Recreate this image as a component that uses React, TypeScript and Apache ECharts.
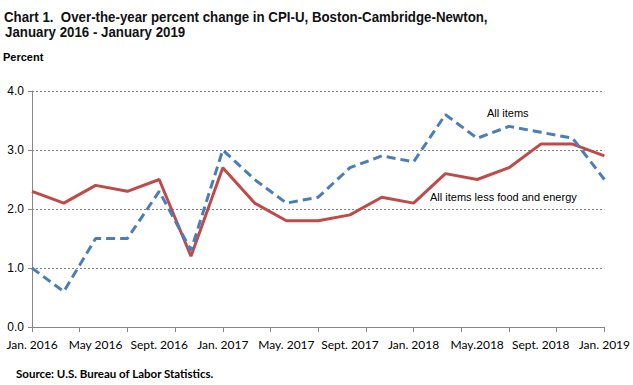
import React, { useEffect, useRef } from "react";
import * as echarts from "echarts";

const months = [0, 2, 4, 6, 8, 10, 12, 14, 16, 18, 20, 22, 24, 26, 28, 30, 32, 34, 36];
const allItems = [1.0, 0.6, 1.5, 1.5, 2.3, 1.3, 3.0, 2.5, 2.1, 2.2, 2.7, 2.9, 2.8, 3.6, 3.2, 3.4, 3.3, 3.2, 2.5];
const coreItems = [2.3, 2.1, 2.4, 2.3, 2.5, 1.2, 2.7, 2.1, 1.8, 1.8, 1.9, 2.2, 2.1, 2.6, 2.5, 2.7, 3.1, 3.1, 2.9];
const xLabels = ["Jan. 2016", "May 2016", "Sept. 2016", "Jan. 2017", "May. 2017", "Sept. 2017", "Jan. 2018", "May.2018", "Sept. 2018", "Jan. 2019"];
const yTicks = [0, 1, 2, 3, 4];

export default function App() {
  const ref = useRef<HTMLDivElement>(null);
  useEffect(() => {
    if (!ref.current) return;
    const chart = echarts.init(ref.current, null, { renderer: "svg" });
    const axisGray = "#868686";
    const titleStyle = {
      fontFamily: "'Liberation Sans', Arial, sans-serif",
      fontSize: 14,
      fontWeight: "bold",
      fill: "#111",
    };
    chart.setOption({
      animation: false,
      backgroundColor: "#ffffff",
      grid: { left: 32, right: 28, top: 91, bottom: 58, containLabel: false },
      xAxis: [
        {
          type: "value",
          min: 0,
          max: 36,
          interval: 3,
          position: "bottom",
          axisLine: { show: true, lineStyle: { color: axisGray, width: 1 } },
          axisTick: { show: true, length: 5, lineStyle: { color: axisGray } },
          axisLabel: { show: false },
          splitLine: { show: false },
        },
        {
          type: "value",
          min: 0,
          max: 36,
          interval: 4,
          position: "bottom",
          axisLine: { show: false },
          axisTick: { show: false },
          splitLine: { show: false },
          axisLabel: {
            show: true,
            margin: 11,
            color: "#000",
            fontFamily: "Lato, 'Open Sans', sans-serif",
            fontSize: 12,
            formatter: (v: number) => xLabels[Math.round(v / 4)] ?? "",
          },
        },
      ],
      yAxis: {
        type: "value",
        min: yTicks[0],
        max: yTicks[yTicks.length - 1],
        interval: 1,
        axisLine: { show: true, lineStyle: { color: axisGray } },
        axisTick: { show: true, length: 4, lineStyle: { color: axisGray } },
        axisLabel: {
          color: "#000",
          fontFamily: "Liberation Sans, Arial, sans-serif",
          fontSize: 12,
          margin: 8,
          formatter: (v: number) => v.toFixed(1),
        },
        splitLine: { show: true, lineStyle: { color: "#7f7f7f", type: [2, 2], width: 1 } },
      },
      series: [
        {
          name: "All items",
          type: "line",
          xAxisIndex: 0,
          data: months.map((m, i) => [m, allItems[i]]),
          symbol: "none",
          lineStyle: { color: "#4a7ebb", width: 3, type: [9, 5] },
          z: 3,
        },
        {
          name: "All items less food and energy",
          type: "line",
          xAxisIndex: 0,
          data: months.map((m, i) => [m, coreItems[i]]),
          symbol: "none",
          lineStyle: { color: "#be4b48", width: 3 },
          z: 2,
        },
      ],
      graphic: [
        {
          type: "text",
          x: 4,
          y: 10,
          scaleX: 0.95,
          style: { ...titleStyle, text: "Chart 1.  Over-the-year percent change in CPI-U, Boston-Cambridge-Newton," },
        },
        {
          type: "text",
          x: 5,
          y: 25,
          scaleX: 0.95,
          style: { ...titleStyle, text: "January 2016 - January 2019" },
        },
        {
          type: "text",
          left: 3,
          top: 51,
          style: { text: "Percent", fontFamily: "'Liberation Sans', Arial, sans-serif", fontSize: 11, fontWeight: "bold", fill: "#000" },
        },
        {
          type: "text",
          left: 487,
          top: 107,
          style: { text: "All items", fontFamily: "'Liberation Sans', Arial, sans-serif", fontSize: 11, fill: "#000" },
        },
        {
          type: "text",
          left: 430,
          top: 191,
          style: { text: "All items less food and energy", fontFamily: "'Liberation Sans', Arial, sans-serif", fontSize: 11, fill: "#000" },
        },
        {
          type: "text",
          left: 16,
          top: 367,
          style: { text: "Source: U.S. Bureau of Labor Statistics.", fontFamily: "Lato, 'Open Sans', sans-serif", fontSize: 11.5, fontWeight: "bold", fill: "#000" },
        },
      ],
    });
    return () => chart.dispose();
  }, []);
  return <div ref={ref} style={{ width: 633, height: 385, position: "absolute", left: 0, top: 0 }} />;
}
